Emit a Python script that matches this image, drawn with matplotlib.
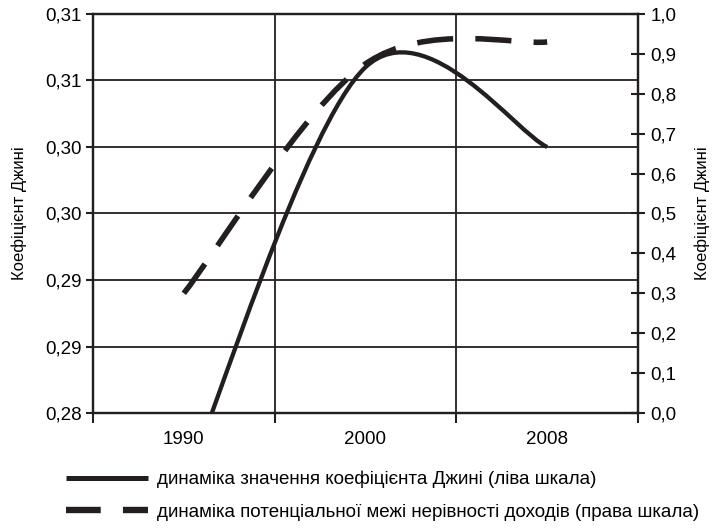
import matplotlib
matplotlib.use("Agg")
import matplotlib.pyplot as plt
from matplotlib.path import Path
from matplotlib.patches import PathPatch
from matplotlib.lines import Line2D

plt.rcParams["font.family"] = ["Liberation Sans", "DejaVu Sans"]
plt.rcParams["font.size"] = 13.5
plt.rcParams["lines.scale_dashes"] = False

years = ["1990", "2000", "2008"]
gini = [0.2744, 0.3060, 0.3000]          # left scale
limit = [0.30, 0.875, 0.93]              # right scale
left_ticks = [0.28, 0.285, 0.29, 0.295, 0.30, 0.305, 0.31]
left_labels = ["0,28", "0,29", "0,29", "0,30", "0,30", "0,31", "0,31"]
right_ticks = [i / 10 for i in range(11)]
right_labels = ["%.1f" % t for t in right_ticks]
right_labels = [s.replace(".", ",") for s in right_labels]

label_gini = "динаміка значення коефіцієнта Джині (ліва шкала)"
label_limit = "динаміка потенціальної межі нерівності доходів (права шкала)"
ylabel = "Коефіцієнт Джині"
ink = "#231f20"


def smooth_path(xs, ys):
    # smoothed line like in a spreadsheet chart (cubic bezier, catmull-rom style)
    pts = list(zip(xs, ys))
    n = len(pts)
    verts = [pts[0]]
    codes = [Path.MOVETO]
    for i in range(n - 1):
        pp = pts[max(i - 1, 0)]
        p0 = pts[i]
        p1 = pts[i + 1]
        pn = pts[min(i + 2, n - 1)]
        c1 = (p0[0] + (p1[0] - pp[0]) / 6, p0[1] + (p1[1] - pp[1]) / 6)
        c2 = (p1[0] - (pn[0] - p0[0]) / 6, p1[1] - (pn[1] - p0[1]) / 6)
        verts += [c1, c2, p1]
        codes += [Path.CURVE4] * 3
    return Path(verts, codes)


fig = plt.figure(figsize=(7.13, 5.28), dpi=100)
ax = fig.add_axes([0.1304, 0.2178, 0.7644, 0.7557])
ax2 = ax.twinx()

x = list(range(len(years)))
ax.set_xlim(-0.5, len(years) - 0.5)
ax.set_ylim(0.28, 0.31)
ax2.set_ylim(0, 1)

ax.add_patch(PathPatch(smooth_path(x, gini), facecolor="none", edgecolor=ink,
                       lw=3.1, capstyle="butt", zorder=3))
ax2.add_patch(PathPatch(smooth_path(x, limit), facecolor="none", edgecolor=ink,
                        lw=4.0, capstyle="butt", linestyle=(0, (26, 16)), zorder=3))

# x axis: ticks at category borders, labels at centres
ax.set_xticks([i - 0.5 for i in range(len(years) + 1)])
ax.set_xticklabels([])
ax.set_xticks(x, minor=True)
ax.set_xticklabels(years, minor=True)
ax.tick_params(axis="x", which="major", direction="out", length=7, width=1.5, color=ink)
ax.tick_params(axis="x", which="minor", length=0, pad=13)

ax.set_yticks(left_ticks)
ax.set_yticklabels(left_labels)
ax.tick_params(axis="y", direction="out", length=5, width=1.5, color=ink, pad=3)
ax2.set_yticks(right_ticks)
ax2.set_yticklabels(right_labels)
ax2.tick_params(axis="y", direction="inout", length=10, width=1.5, color=ink, pad=4)

ax.grid(True, which="major", color=ink, lw=1.3)
ax.set_axisbelow(True)
for a in (ax, ax2):
    for s in a.spines.values():
        s.set_color(ink)
        s.set_linewidth(1.6)

ax.set_ylabel(ylabel, va="center", fontsize=12)
ax.yaxis.set_label_coords(-0.136, 0.5)
ax2.set_ylabel(ylabel, rotation=90, va="center", fontsize=12)
ax2.yaxis.set_label_coords(1.118, 0.5)

handles = [Line2D([], [], color=ink, lw=3.6, solid_capstyle="butt"),
           Line2D([], [], color=ink, lw=4.6, linestyle=(0, (25, 16)), dash_capstyle="butt")]
fig.legend(handles, [label_gini, label_limit], loc="upper left",
           bbox_to_anchor=(0.0926, 0.108), frameon=False, borderpad=0,
           borderaxespad=0, handlelength=4.37, handletextpad=0.48, labelspacing=0.8)

fig.savefig("out.png", dpi=100)
